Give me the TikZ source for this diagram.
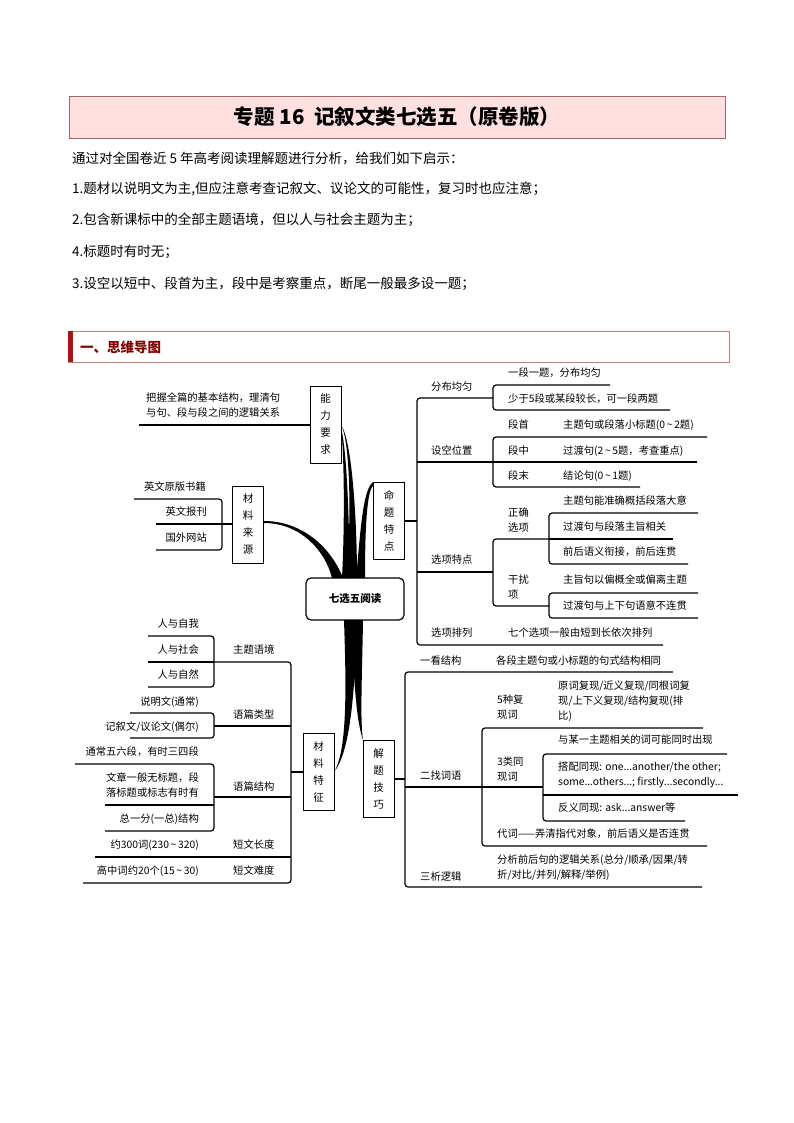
\documentclass[tikz,border=0pt]{standalone}
\usepackage{fontspec}
\setmainfont{Noto Sans CJK SC}
\begin{document}
\begin{tikzpicture}[x=1pt,y=-1pt,
  tx/.style={inner sep=0pt,font=\fontsize{10.3}{15}\selectfont},
  tl/.style={tx,anchor=west},
  tr/.style={tx,anchor=east,align=right},
  vbox/.style={draw,line width=1pt,inner sep=0pt,minimum width=31pt,minimum height=77pt,align=center,font=\fontsize{10.5}{17}\selectfont},
  br/.style={line width=1.2pt,rounded corners=3pt},
  body/.style={inner sep=0pt,anchor=west,font=\fontsize{13.5}{16}\selectfont}]
\useasboundingbox (0,0) rectangle (794,1123);
\fill[white] (0,0) rectangle (794,1123);
% title
\node[draw=black!60!red!60,fill=red!12!white,line width=0.8pt,minimum width=656pt,minimum height=42pt,inner sep=0pt,font=\fontsize{20.5}{22}\selectfont\bfseries] (title) at (397,117) {专题 16\ \ 记叙文类七选五（原卷版）};
\node[body] (l1) at (72,158) {通过对全国卷近 5 年高考阅读理解题进行分析，给我们如下启示：};
\node[body] (l2) at (72,189) {1.题材以说明文为主,但应注意考查记叙文、议论文的可能性，复习时也应注意；};
\node[body] (l3) at (72,220) {2.包含新课标中的全部主题语境，但以人与社会主题为主；};
\node[body] (l4) at (72,252) {4.标题时有时无；};
\node[body] (l5) at (72,284) {3.设空以短中、段首为主，段中是考察重点，断尾一般最多设一题；};
% section bar
\node[draw=black!50!red!50,line width=0.6pt,minimum width=661pt,minimum height=31pt,inner sep=0pt] (sec) at (398.5,346.5) {};
\fill[red!60!black!90] (68,331) rectangle (73,362);
\node[inner sep=0pt,anchor=west,text=red!50!black,font=\fontsize{13.5}{16}\selectfont\bfseries] (sect) at (80,347) {一、思维导图};

% center
\node[draw,line width=1.2pt,rounded corners=5pt,minimum width=98pt,minimum height=42pt,font=\fontsize{10.5}{12}\selectfont\bfseries] (c) at (355,599) {七选五阅读};
\node[vbox] (nl) at (325.5,424.5) {能\\力\\要\\求};
\node[vbox] (ly) at (248,524.5) {材\\料\\来\\源};
\node[vbox] (mt) at (389,521) {命\\题\\特\\点};
\node[vbox] (cl) at (318.5,772) {材\\料\\特\\征};
\node[vbox] (jt) at (378.5,778.5) {解\\题\\技\\巧};

% thick organic links
\fill (341,425) .. controls (350,440) and (352,520) .. (346,578) -- (357,578) .. controls (357,520) and (352,440) .. (341,425) -- cycle;
\fill (341,428) .. controls (344,450) and (345,520) .. (342,578) -- (350,578) .. controls (349,520) and (347,450) .. (341,428) -- cycle;
\fill (264,523) .. controls (300,523) and (325,550) .. (332,578) -- (343,578) .. controls (330,545) and (300,521) .. (264,521) -- cycle;
\fill (373,482) .. controls (362,490) and (360,540) .. (356,578) -- (365,578) .. controls (365,540) and (366,492) .. (373,486) -- cycle;
\fill (344,620) .. controls (346,680) and (348,750) .. (334,772) .. controls (352,750) and (355,680) .. (357,620) -- cycle;
\fill (351,620) .. controls (354,680) and (356,720) .. (363,740) .. controls (360,720) and (362,680) .. (363,620) -- cycle;

% top-left
\node[tl,align=left] (t1) at (146,405) {把握全篇的基本结构，理清句\\与句、段与段之间的逻辑关系};
\draw[line width=1.2pt] (139,425) -- (nl.west |- 0,425);
\node[tr] (s1) at (206,487) {英文原版书籍};
\node[tr] (s2) at (207,512) {英文报刊};
\node[tr] (s3) at (207,538) {国外网站};
\draw[br] (134,499) -- (222,499) -- (222,550) -- (156,550);
\draw[line width=1.2pt] (156,524) -- (ly.west |- 0,524);

% right top: 命题特点
\draw[line width=1.2pt] (mt.east) -- (417,521);
\draw[br] (493,398) -- (417,398) -- (417,645) -- (663,645);
\node[tl] (a1) at (431,387) {分布均匀};
\draw[br] (610,385) -- (493,385) -- (493,410) -- (670,410);
\node[tl] (a11) at (508,373) {一段一题，分布均匀};
\node[tl] (a12) at (508,399) {少于5段或某段较长，可一段两题};
\node[tl] (a2) at (431,451) {设空位置};
\draw[line width=1.2pt] (417,462) -- (697,462);
\draw[br] (707,437) -- (493,437) -- (493,487) -- (640,487);
\node[tl] (b1) at (508,425) {段首};
\node[tl] (b2) at (508,451) {段中};
\node[tl] (b3) at (508,476) {段末};
\node[tl] (b1t) at (563,425) {主题句或段落小标题(0\,\textasciitilde\,2题)};
\node[tl] (b2t) at (563,451) {过渡句(2\,\textasciitilde\,5题，考查重点)};
\node[tl] (b3t) at (563,476) {结论句(0\,\textasciitilde\,1题)};
\node[tl] (a3) at (431,560) {选项特点};
\draw[line width=1.2pt] (417,572) -- (493,572);
\draw[br] (549,539) -- (493,539) -- (493,606) -- (549,606);
\draw[line width=1.2pt] (549,539) -- (673,539);
\draw[br] (698,513) -- (549,513) -- (549,564) -- (688,564);
\node[tl,align=left] (z1) at (508,520) {正确\\选项};
\node[tl] (z11) at (563,501) {主题句能准确概括段落大意};
\node[tl] (z12) at (563,527) {过渡句与段落主旨相关};
\node[tl] (z13) at (563,552) {前后语义衔接，前后连贯};
\node[tl,align=left] (z2) at (508,587) {干扰\\项};
\draw[br] (698,593) -- (549,593) -- (549,618) -- (698,618);
\node[tl] (z21) at (563,580) {主旨句以偏概全或偏离主题};
\node[tl] (z22) at (563,606) {过渡句与上下句语意不连贯};
\node[tl] (a4) at (431,633) {选项排列};
\node[tl] (a41) at (508,633) {七个选项一般由短到长依次排列};

% right bottom: 解题技巧
\draw[line width=1.2pt] (jt.east |- 0,779) -- (405,779);
\draw[br] (673,672) -- (405,672) -- (405,887) -- (702,887);
\node[tl] (j1) at (420,661) {一看结构};
\node[tl] (j11) at (496,661) {各段主题句或小标题的句式结构相同};
\node[tl] (j2) at (420,776) {二找词语};
\draw[line width=1.2pt] (405,787) -- (543,787);
\draw[br] (703,728) -- (482,728) -- (482,846) -- (707,846);
\node[tl,align=left] (j21) at (497,707) {5种复\\现词};
\node[tl,align=left] (j21t) at (558,701) {原词复现/近义复现/同根词复\\现/上下义复现/结构复现(排\\比)};
\node[tl,align=left] (j22) at (497,769) {3类同\\现词};
\draw[br] (727,754) -- (543,754) -- (543,821) -- (685,821);
\draw[line width=1.2pt] (543,795) -- (738,795);
\node[tl] (j221) at (558,740) {与某一主题相关的词可能同时出现};
\node[tl,align=left] (j222) at (558,775) {搭配同现: one...another/the other;\\some...others...; firstly...secondly...};
\node[tl] (j223) at (558,808) {反义同现: ask...answer等};
\node[tl] (j23) at (497,834) {代词——弄清指代对象，前后语义是否连贯};
\node[tl] (j3) at (420,877) {三析逻辑};
\node[tl,align=left] (j31) at (497,868) {分析前后句的逻辑关系(总分/顺承/因果/转\\折/对比/并列/解释/举例)};

% left bottom: 材料特征
\draw[line width=1.2pt] (cl.west |- 0,772) -- (291,772);
\draw[br] (214,662) -- (291,662) -- (291,883) -- (83,883);
\node[tl] (k1) at (233,650) {主题语境};
\draw[br] (148,636) -- (214,636) -- (214,687) -- (148,687);
\draw[line width=1.2pt] (148,662) -- (214,662);
\node[tr] (k11) at (199,624) {人与自我};
\node[tr] (k12) at (199,650) {人与社会};
\node[tr] (k13) at (199,675) {人与自然};
\node[tl] (k2) at (233,715) {语篇类型};
\draw[line width=1.2pt] (214,726) -- (291,726);
\draw[br] (130,713) -- (214,713) -- (214,738) -- (130,738);
\node[tr] (k21) at (199,702) {说明文(通常)};
\node[tr] (k22) at (199,727) {记叙文/议论文(偶尔)};
\node[tl] (k3) at (233,787) {语篇结构};
\draw[line width=1.2pt] (214,797) -- (291,797);
\draw[br] (75,764) -- (214,764) -- (214,831) -- (105,831);
\draw[line width=1.2pt] (105,805) -- (214,805);
\node[tr] (k31) at (199,752) {通常五六段，有时三四段};
\node[tr] (k32) at (199,785) {文章一般无标题，段\\落标题或标志有时有};
\node[tr] (k33) at (199,819) {总一分(一总)结构};
\node[tl] (k4) at (233,845) {短文长度};
\draw[line width=1.2pt] (95,857) -- (291,857);
\node[tr] (k41) at (199,845) {约300词(230\,\textasciitilde\,320)};
\node[tl] (k5) at (233,871) {短文难度};
\node[tr] (k51) at (199,871) {高中词约20个(15\,\textasciitilde\,30)};
\end{tikzpicture}
\end{document}
